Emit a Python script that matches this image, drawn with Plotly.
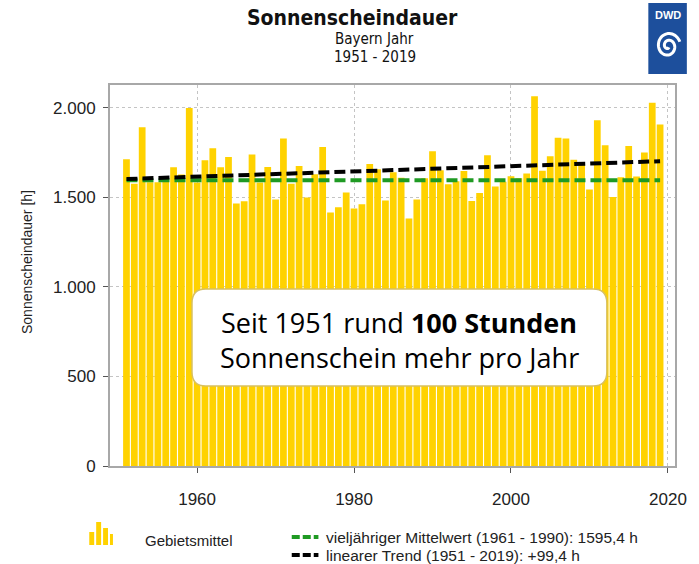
import numpy as np
import plotly.graph_objects as go

# ---- data ----
years = list(range(1951, 2020))
sunshine = [
    1713, 1577, 1892, 1585, 1585, 1610, 1668, 1628, 2000, 1583,   # 1951-1960
    1708, 1775, 1669, 1726, 1466, 1479, 1740, 1583, 1670, 1488,   # 1961-1970
    1829, 1577, 1676, 1499, 1630, 1782, 1416, 1445, 1527, 1438,   # 1971-1980
    1462, 1687, 1657, 1483, 1640, 1610, 1382, 1488, 1607, 1758,   # 1981-1990
    1652, 1573, 1590, 1647, 1480, 1525, 1736, 1561, 1588, 1619,   # 1991-2000
    1607, 1634, 2065, 1649, 1730, 1834, 1829, 1710, 1698, 1544,   # 2001-2010
    1931, 1792, 1503, 1613, 1787, 1617, 1751, 2029, 1907,         # 2011-2019
]
mean_years = [1951, 2019]
mean_values = [1595.4, 1595.4]
trend_years = [1951, 2019]
trend_values = [1603.0, 1702.4]

y_ticks = [0, 500, 1000, 1500, 2000]
y_ticklabels = ["0", "500", "1.000", "1.500", "2.000"]
x_ticks = [1960, 1980, 2000, 2020]

title = "Sonnenscheindauer"
subtitle1 = "Bayern Jahr"
subtitle2 = "1951 - 2019"
y_title = "Sonnenscheindauer [h]"
legend_bar = "Gebietsmittel"
legend_mean = "vieljähriger Mittelwert (1961 - 1990): 1595,4 h"
legend_trend = "linearer Trend (1951 - 2019): +99,4 h"
box_line1 = "Seit 1951 rund <b>100 Stunden</b>"
box_line2 = "Sonnenschein mehr pro Jahr"

# ---- layout geometry (pixels) ----
W, H = 699, 564
L, R, T, B = 110, 682, 85, 466
pw, ph = R - L, B - T


def px(x):
    return (x - L) / pw


def py(y):
    return (B - y) / ph


BAR = "#FFD200"
GREEN = "#1f9a23"
FONT = "Liberation Sans, Arial, sans-serif"
NARROW = "Liberation Sans Narrow, DejaVu Sans Condensed, Roboto Condensed, Liberation Sans, sans-serif"

fig = go.Figure()
fig.add_trace(go.Bar(x=years, y=sunshine, marker=dict(color=BAR, line=dict(width=0)),
                     showlegend=False))
fig.add_trace(go.Scatter(x=mean_years, y=mean_values, mode="lines",
                         line=dict(color=GREEN, width=4, dash="11px,5px"), showlegend=False))
fig.add_trace(go.Scatter(x=trend_years, y=trend_values, mode="lines",
                         line=dict(color="black", width=4, dash="11px,5px"), showlegend=False))

shapes = []
annotations = []

# rounded text box
bx0, bx1, by0, by1 = 193, 613, 289, 386
rad = 14
path = (f"M {px(bx0+rad)},{py(by0)} L {px(bx1-rad)},{py(by0)} "
        f"Q {px(bx1)},{py(by0)} {px(bx1)},{py(by0+rad)} "
        f"L {px(bx1)},{py(by1-rad)} Q {px(bx1)},{py(by1)} {px(bx1-rad)},{py(by1)} "
        f"L {px(bx0+rad)},{py(by1)} Q {px(bx0)},{py(by1)} {px(bx0)},{py(by1-rad)} "
        f"L {px(bx0)},{py(by0+rad)} Q {px(bx0)},{py(by0)} {px(bx0+rad)},{py(by0)} Z")
shapes.append(dict(type="path", xref="paper", yref="paper", path=path,
                   fillcolor="white", line=dict(color="#d8c060", width=1.5), layer="above"))
annotations.append(dict(xref="paper", yref="paper", x=px(403), y=py(322), text=box_line1,
                        showarrow=False, font=dict(family="Open Sans", size=27, color="black"),
                        xanchor="center", yanchor="middle"))
annotations.append(dict(xref="paper", yref="paper", x=px(403), y=py(357), text=box_line2,
                        showarrow=False, font=dict(family="Open Sans", size=27, color="black"),
                        xanchor="center", yanchor="middle"))

# titles
annotations.append(dict(xref="paper", yref="paper", x=px(356), y=py(18), text="<b>" + title + "</b>",
                        showarrow=False, font=dict(family=NARROW, size=21, color="#111"),
                        xanchor="center", yanchor="middle"))
annotations.append(dict(xref="paper", yref="paper", x=px(378), y=py(39), text=subtitle1,
                        showarrow=False, font=dict(family=NARROW, size=15, color="#111"),
                        xanchor="center", yanchor="middle"))
annotations.append(dict(xref="paper", yref="paper", x=px(378), y=py(57), text=subtitle2,
                        showarrow=False, font=dict(family=NARROW, size=15, color="#111"),
                        xanchor="center", yanchor="middle"))

# y-axis title
annotations.append(dict(xref="paper", yref="paper", x=px(26), y=py(262), text=y_title,
                        showarrow=False, textangle=-90, font=dict(family=FONT, size=14, color="#222"),
                        xanchor="center", yanchor="middle"))

# DWD logo
shapes.append(dict(type="rect", xref="paper", yref="paper", x0=px(655), x1=px(694),
                   y0=py(74), y1=py(3), fillcolor="#1d4f9c", line=dict(width=0)))
annotations.append(dict(xref="paper", yref="paper", x=px(674.5), y=py(15), text="<b>DWD</b>",
                        showarrow=False, font=dict(family=FONT, size=11, color="white"),
                        xanchor="center", yanchor="middle"))
cx, cy = 675, 46
th = np.linspace(0, 3.6 * np.pi, 90)
rr = 1.5 + 11.0 * th / th[-1]
sx = cx + rr * np.cos(th + 0.3 * np.pi)
sy = cy + rr * np.sin(th + 0.3 * np.pi) * 1.1
spiral = "M " + " L ".join(f"{px(a):.5f},{py(b):.5f}" for a, b in zip(sx, sy))
shapes.append(dict(type="path", xref="paper", yref="paper", path=spiral,
                   line=dict(color="white", width=3)))

# legend: bar icon
for (a, b, top) in [(89, 94, 532), (96, 101, 522), (103, 108, 528), (110, 113, 534)]:
    shapes.append(dict(type="rect", xref="paper", yref="paper", x0=px(a), x1=px(b),
                       y0=py(545), y1=py(top), fillcolor=BAR, line=dict(width=0)))
annotations.append(dict(xref="paper", yref="paper", x=px(143), y=py(540), text=legend_bar,
                        showarrow=False, font=dict(family=FONT, size=15, color="#222"),
                        xanchor="left", yanchor="middle"))
for (yy, col, txt) in [(537, GREEN, legend_mean), (555, "black", legend_trend)]:
    shapes.append(dict(type="line", xref="paper", yref="paper", x0=px(294), x1=px(321),
                       y0=py(yy), y1=py(yy), line=dict(color=col, width=4, dash="8px,3px")))
    annotations.append(dict(xref="paper", yref="paper", x=px(327), y=py(yy), text=txt,
                            showarrow=False, font=dict(family=FONT, size=15.5, color="#222"),
                            xanchor="left", yanchor="middle"))

fig.update_layout(
    width=W, height=H,
    margin=dict(l=L, r=W - R, t=T, b=H - B, pad=0),
    paper_bgcolor="white", plot_bgcolor="white",
    bargap=0.14,
    shapes=shapes, annotations=annotations,
    showlegend=False,
    hovermode=False,
    font=dict(family=FONT, size=14, color="#222"),
)
fig.update_xaxes(range=[1948.9, 2020.9], tickvals=x_ticks, ticks="outside", ticklen=5,
                 tickcolor="#555", showgrid=True, gridcolor="#c4c4c4", griddash="dot", gridwidth=1,
                 showline=True, linecolor="#a8a8a8", linewidth=2, mirror=True,
                 tickfont=dict(size=17, color="#222"), zeroline=False, ticklabelstandoff=12)
fig.update_yaxes(range=[0, 2128], tickvals=y_ticks, ticktext=y_ticklabels, ticks="outside",
                 ticklen=5, tickcolor="#555", showgrid=True, gridcolor="#c4c4c4", griddash="dot",
                 gridwidth=1, showline=True, linecolor="#a8a8a8", linewidth=2, mirror=True,
                 tickfont=dict(size=17, color="#222"), zeroline=False, ticklabelstandoff=4)

fig.write_html("out.html", config={"displayModeBar": False},
               post_script="document.body.style.margin='0';document.body.style.overflow='hidden';")
